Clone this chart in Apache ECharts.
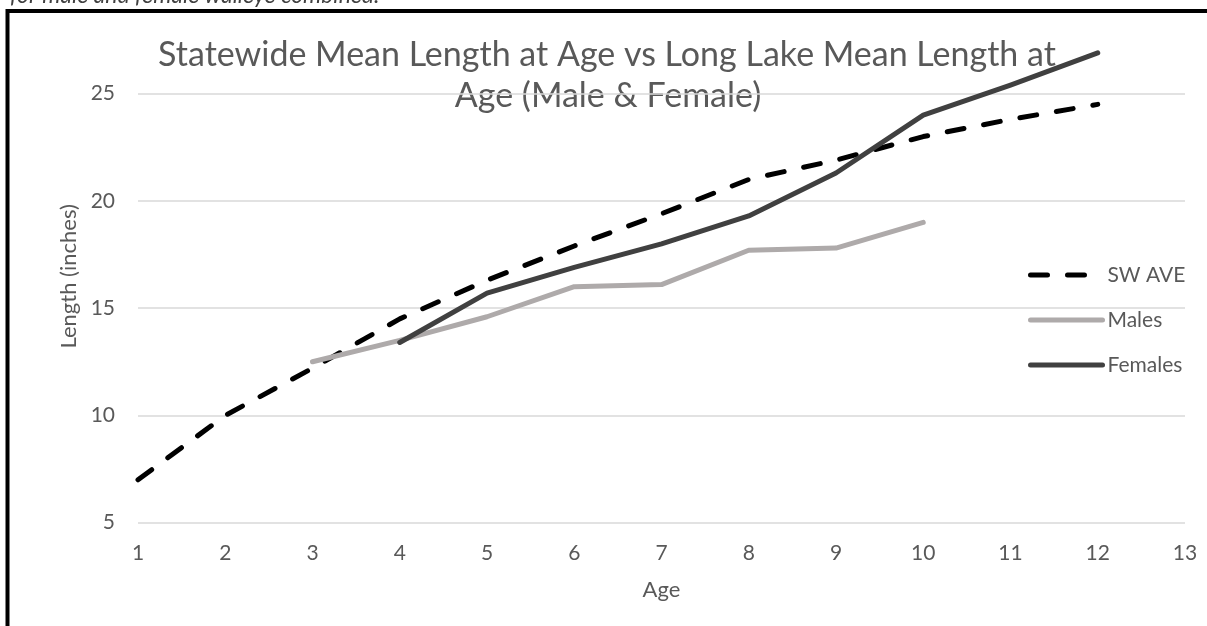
<!DOCTYPE html>
<html>
<head>
<meta charset="UTF-8">
<script type="text/javascript" src="https://cdn.jsdelivr.net/npm/echarts@6/dist/echarts.min.js"></script>
<style>
  html, body { margin: 0; padding: 0; background: #fff; }
  #chartmain { width: 1207px; height: 626px; }
</style>
</head>
<body>
<div id="chartmain"></div>
<script type="text/javascript">
	// ages and mean lengths (inches)
	var swAges = [1, 2, 3, 4, 5, 6, 7, 8, 9, 10, 11, 12];
	var swAve = [7.0, 10.0, 12.2, 14.5, 16.3, 17.9, 19.4, 21.0, 21.9, 23.0, 23.8, 24.5];
	var maleAges = [3, 4, 5, 6, 7, 8, 9, 10];
	var males = [12.5, 13.5, 14.6, 16.0, 16.1, 17.7, 17.8, 19.0];
	var femaleAges = [4, 5, 6, 7, 8, 9, 10, 11, 12];
	var females = [13.4, 15.7, 16.9, 18.0, 19.3, 21.3, 24.0, 25.4, 26.9];
	var seriesNames = ['SW AVE', 'Males', 'Females'];
	var titleLines = ['Statewide Mean Length at Age vs Long Lake Mean Length at', 'Age (Male & Female)'];
	var noteText = 'for male and female walleye combined.';

	function pairs(xs, ys) {
		var out = [];
		for (var i = 0; i < xs.length; i++) {
			out.push([xs[i], ys[i]]);
		}
		return out;
	}

	var font = 'Lato';
	var grey = '#595959';

	var option = {
		animation: false,
		textStyle: { fontFamily: font },
		grid: { left: 138, right: 22, top: 40, bottom: 103.3 },
		graphic: [
			{
				type: 'rect',
				shape: { x: 7.5, y: 11, width: 1400, height: 800 },
				style: { fill: 'none', stroke: '#000', lineWidth: 4 },
				silent: true
			},
			{
				type: 'text',
				x: 10, y: -4.5,
				style: { text: noteText, fontFamily: font, fontStyle: 'italic', fontSize: 23, fill: '#404040', verticalAlign: 'middle' }
			},
			{
				type: 'text',
				x: 607, y: 55,
				style: { text: titleLines[0], fontFamily: font, fontSize: 34, fill: grey, align: 'center', verticalAlign: 'middle' }
			},
			{
				type: 'text',
				x: 608, y: 96,
				style: { text: titleLines[1], fontFamily: font, fontSize: 34, fill: grey, align: 'center', verticalAlign: 'middle' }
			}
		],
		legend: {
			orient: 'vertical',
			left: 1028,
			top: 264,
			padding: 0,
			itemWidth: 72,
			itemHeight: 22,
			itemGap: 23,
			data: seriesNames,
			lineStyle: { width: 5 },
			itemStyle: { opacity: 0, borderWidth: 0 },
			textStyle: { color: grey, fontSize: 21, lineHeight: 22, fontFamily: font }
		},
		xAxis: {
			type: 'value',
			min: 1,
			max: 13,
			interval: 1,
			name: 'Age',
			nameLocation: 'middle',
			nameGap: 56,
			nameTextStyle: { color: grey, fontSize: 22, fontFamily: font },
			axisLine: { show: false },
			axisTick: { show: false },
			splitLine: { show: false },
			axisLabel: { color: grey, fontSize: 21, margin: 20, fontFamily: font }
		},
		yAxis: {
			type: 'value',
			min: 5,
			max: 27.5,
			interval: 5,
			name: 'Length (inches)',
			nameLocation: 'middle',
			nameRotate: 90,
			nameGap: 57,
			nameTextStyle: { color: grey, fontSize: 22, fontFamily: font, padding: [0, 0, 0, 10] },
			axisLine: { show: false },
			axisTick: { show: false },
			splitLine: { show: true, showMaxLine: false, lineStyle: { color: '#D9D9D9', width: 1.5 } },
			axisLabel: { color: grey, fontSize: 21, margin: 23, showMaxLabel: false, fontFamily: font }
		},
		series: [
			{
				name: seriesNames[0],
				type: 'line',
				data: pairs(swAges, swAve),
				symbol: 'none',
				clip: false,
				lineStyle: { color: '#000000', width: 5, type: [17, 20], cap: 'round', join: 'round' },
				itemStyle: { color: '#000000' }
			},
			{
				name: seriesNames[1],
				type: 'line',
				data: pairs(maleAges, males),
				symbol: 'none',
				clip: false,
				lineStyle: { color: '#AEAAAA', width: 5, cap: 'round', join: 'round' },
				itemStyle: { color: '#AEAAAA' }
			},
			{
				name: seriesNames[2],
				type: 'line',
				data: pairs(femaleAges, females),
				symbol: 'none',
				clip: false,
				lineStyle: { color: '#404040', width: 5, cap: 'round', join: 'round' },
				itemStyle: { color: '#404040' }
			}
		]
	};

	var myChart = echarts.init(document.getElementById('chartmain'));
	myChart.setOption(option);
</script>
</body>
</html>
